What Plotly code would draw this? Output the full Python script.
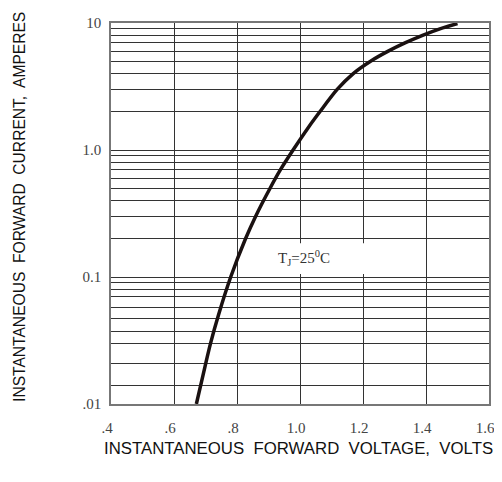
import numpy as np
import plotly.graph_objects as go

# ---- data ----
voltage = [0.671, 0.699, 0.716, 0.741, 0.780, 0.827, 0.859, 0.905, 0.938, 0.978,
           1.026, 1.063, 1.118, 1.169, 1.224, 1.280, 1.335, 1.389, 1.444, 1.500]
current = [0.01, 0.02, 0.03, 0.05, 0.1, 0.2, 0.3, 0.5, 0.7, 1.0,
           1.5, 2, 3, 4, 5, 6, 7, 8, 9, 9.9]

x_tickvals = [0.4, 0.6, 0.8, 1.0, 1.2, 1.4, 1.6]
x_ticktext = [".4", ".6", ".8", "1.0", "1.2", "1.4", "1.6"]
y_tickvals = [0.01, 0.1, 1, 10]
y_ticktext = [".01", "0.1", "1.0", "10"]
y_minor = ([0.09, 0.08, 0.07, 0.058, 0.047, 0.037, 0.030, 0.0207, 0.014]
           + [m * 0.1 for m in range(2, 10)]
           + [m * 1.0 for m in range(2, 10)])

note_text = "T<sub>J</sub>=25<sup>0</sup>C"
x_title = "INSTANTANEOUS\u00a0 FORWARD\u00a0 VOLTAGE,\u00a0 VOLTS"
y_title = "INSTANTANEOUS\u00a0 FORWARD\u00a0 CURRENT,\u00a0 AMPERES"

grid_color = "#333333"
tick_font = dict(family="Liberation Serif", size=15, color="#444444")

fig = go.Figure()
fig.add_trace(go.Scatter(
    x=voltage, y=current, mode="lines",
    line=dict(color="#1a1111", width=3.5, shape="spline", smoothing=0.8),
    hoverinfo="skip", showlegend=False,
))

# white box behind the temperature note
fig.add_shape(type="rect", xref="x", yref="y",
              x0=0.9125, x1=1.24, y0=0.1054, y1=0.1845,
              fillcolor="white", line=dict(width=0), layer="above")

fig.add_annotation(x=1.0125, y=np.log10(0.1406), xref="x", yref="y",
                   text=note_text, showarrow=False,
                   font=dict(family="Liberation Serif", size=15, color="#333333"))

fig.add_annotation(x=0.495, y=-0.117, xref="paper", yref="paper",
                   text=x_title, showarrow=False,
                   font=dict(family="Liberation Sans", size=16.8, color="#111111"),
                   xanchor="center", yanchor="middle")
fig.add_annotation(x=-0.242, y=0.516, xref="paper", yref="paper",
                   text=y_title, showarrow=False,
                   font=dict(family="Liberation Sans", size=15.6, color="#111111"),
                   textangle=-90, xanchor="center", yanchor="middle")

fig.update_xaxes(
    range=[0.4, 1.6], tickmode="array", tickvals=x_tickvals, ticktext=x_ticktext,
    showgrid=True, gridcolor=grid_color, gridwidth=1, zeroline=False,
    showline=True, linecolor="#777777", linewidth=1.5, mirror=True,
    ticks="", tickfont=tick_font, ticklabelstandoff=9, ticklabelshift=-4,
    ticklabeloverflow="allow",
)
fig.update_yaxes(
    type="log", range=[-2, 1], tickmode="array", tickvals=y_tickvals, ticktext=y_ticktext,
    showgrid=True, gridcolor=grid_color, gridwidth=1, zeroline=False,
    showline=True, linecolor="#777777", linewidth=1.5, mirror=True,
    ticks="", tickfont=tick_font, ticklabelstandoff=5,
    minor=dict(tickmode="array", tickvals=y_minor, showgrid=True,
               gridcolor=grid_color, gridwidth=1, ticks=""),
)

# page body adds an 8px offset, so the figure is sized to fit the window
fig.update_layout(
    width=494, height=474,
    margin=dict(l=103, r=7, t=12, b=78),
    paper_bgcolor="white", plot_bgcolor="white",
)

fig.write_html("out.html")
